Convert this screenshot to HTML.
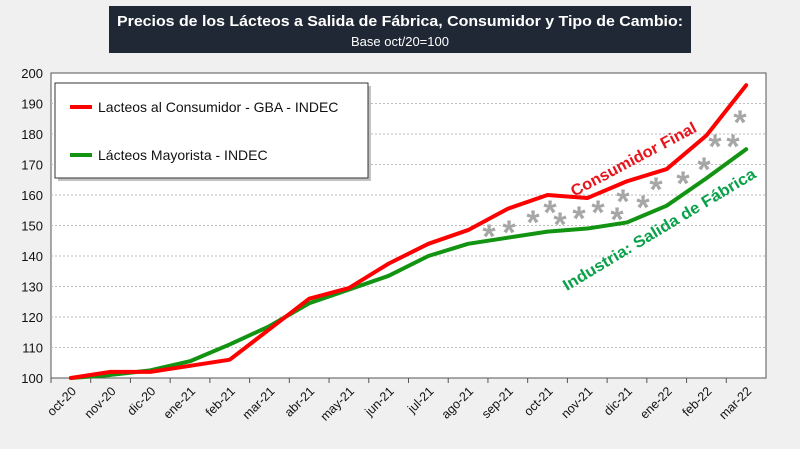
<!DOCTYPE html>
<html><head><meta charset="utf-8"><style>
body{margin:0;background:#f0f0f0;width:800px;height:444px;overflow:hidden;font-family:"Liberation Sans",sans-serif}
</style></head><body>
<svg width="800" height="444" style="font-family:'Liberation Sans',sans-serif">
<rect x="0" y="0" width="800" height="444" fill="#f0f0f0"/>
<rect x="109" y="6" width="582" height="47" fill="#1f2834"/>
<text x="400" y="26" text-anchor="middle" fill="#fff" font-size="15" font-weight="bold" textLength="566" lengthAdjust="spacingAndGlyphs">Precios de los Lácteos a Salida de Fábrica, Consumidor y Tipo de Cambio:</text>
<text x="400" y="46" text-anchor="middle" fill="#fff" font-size="13">Base oct/20=100</text>
<rect x="51" y="73" width="715" height="305" fill="#fff" stroke="#555"/>
<g id="grid"></g><g id="yt"></g><g id="xt"></g>
<g id="stars"></g>
<g id="lines"></g>
<text transform="translate(636,164) rotate(-28)" text-anchor="middle" fill="#e8141c" font-size="16" font-weight="bold" textLength="140" lengthAdjust="spacingAndGlyphs">Consumidor Final</text>
<text transform="translate(662,234) rotate(-31)" text-anchor="middle" fill="#0ba14b" font-size="16" font-weight="bold" textLength="222" lengthAdjust="spacingAndGlyphs">Industria: Salida de Fábrica</text>
<g>
<rect x="58" y="86" width="313" height="95" fill="#888" opacity="0.5"/>
<rect x="55" y="83" width="313" height="95" fill="#fff" stroke="#333"/>
<line x1="70" y1="107" x2="92" y2="107" stroke="#f00" stroke-width="4"/>
<text x="98" y="112" font-size="14" fill="#111">Lacteos al Consumidor - GBA - INDEC</text>
<line x1="70" y1="155" x2="92" y2="155" stroke="#129412" stroke-width="4"/>
<text x="98" y="160" font-size="14" fill="#111">Lácteos Mayorista - INDEC</text>
</g>
</svg>
<script>
const categories=["oct-20","nov-20","dic-20","ene-21","feb-21","mar-21","abr-21","may-21","jun-21","jul-21","ago-21","sep-21","oct-21","nov-21","dic-21","ene-22","feb-22","mar-22"];
const consumidor=[100,102,102,104,106,116,126,129.5,137.5,144,148.5,155.5,160,159,164.5,168.5,179.5,196];
const mayorista=[100,101,102.5,105.5,111,117,124.5,129,133.5,140,144,146,148,149,151,156.5,165.5,175];
const yTicks=[100,110,120,130,140,150,160,170,180,190,200];
const L=51,R=766,T=73,B=378;
const bw=(R-L)/categories.length;
const xs=i=>L+bw*(i+0.5);
const ys=v=>B-(v-100)/100*(B-T);
const NS="http://www.w3.org/2000/svg";
function mk(t,a,p){const e=document.createElementNS(NS,t);for(const k in a)e.setAttribute(k,a[k]);document.getElementById(p).appendChild(e);return e;}
yTicks.forEach(v=>{
 if(v>100&&v<200){const g=mk('line',{x1:L,x2:R,y1:ys(v),y2:ys(v),stroke:'#bbb','stroke-dasharray':'2,2'},'grid');
 
 }
 const t=mk('text',{x:L-8,y:ys(v)+5,'text-anchor':'end','font-size':13,fill:'#111'},'yt');t.textContent=v;
 
 
});
categories.forEach((c,i)=>{
 const tk=mk('line',{x1:L+bw*i,x2:L+bw*i,y1:B,y2:B+5,stroke:'#555'},'xt');
 
 
 const t=mk('text',{transform:`translate(${xs(i)+6},${B+14}) rotate(-45)`,'text-anchor':'end','font-size':12.5,fill:'#111'},'xt');t.textContent=c;
 
 
});
const starPos=[[489,230],[509,226],[533,216],[550,206],[560,218],[579,212],[598,206],[617,213],[623,195],[643,201],[656,183],[683,177],[704,163],[715,140],[733,140],[740,116]];
starPos.forEach(p=>{const s=mk('text',{x:p[0],y:p[1]+18,'text-anchor':'middle','font-size':34,'font-weight':'bold',fill:'#a6a6a6'},'stars');s.textContent='*';
 
 });
[[mayorista,'#129412','line-mayorista'],[consumidor,'#f00','line-consumidor']].forEach(([d,c,n])=>{
 const pl=mk('polyline',{points:d.map((v,i)=>xs(i)+','+ys(v)).join(' '),fill:'none',stroke:c,'stroke-width':4,'stroke-linejoin':'round','stroke-linecap':'round'},'lines');
 
 
});
</script>
</body></html>
